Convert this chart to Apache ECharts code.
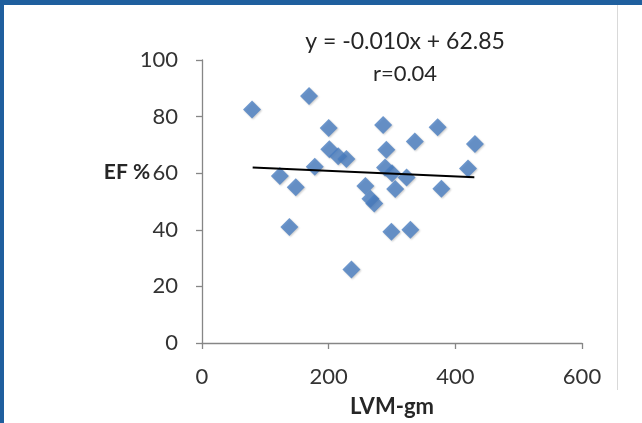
<!DOCTYPE html>
<html>
<head>
<meta charset="utf-8">
<script src="https://cdn.jsdelivr.net/npm/echarts@6/dist/echarts.min.js"></script>
<style>
html,body{margin:0;padding:0;background:#fff;}
#c{width:642px;height:423px;}
</style>
</head>
<body>
<div id="c"></div>
<script>
// LVM (gm) values of the scatter points
const lvm = [79, 169, 200, 201, 215, 228, 178, 123, 148, 138, 286, 291, 336, 372, 431, 289, 300, 323, 420, 258, 266, 272, 305, 378, 299, 329, 236];
// EF (%) values of the scatter points
const ef  = [82.5, 87.3, 76, 68.5, 66, 65, 62.3, 59, 55, 41, 77, 68.3, 71.2, 76.2, 70.3, 62, 60, 58.5, 61.7, 55.5, 51, 49.3, 54.4, 54.5, 39.3, 40, 26];
// Trend line end points
const trendX = [80, 430];
const trendY = [62.05, 58.55];
const xTicks = [0, 200, 400, 600];
const yTicks = [0, 20, 40, 60, 80, 100];
const equationText = 'y = -0.010x + 62.85';
const rText = 'r=0.04';

const FONT = 'Lato';
const chart = echarts.init(document.getElementById('c'), null, {renderer: 'canvas'});
chart.setOption({
  animation: false,
  backgroundColor: '#fff',
  grid: {left: 202, right: 60, top: 60, bottom: 70, containLabel: false},
  xAxis: {
    type: 'value', min: xTicks[0], max: xTicks[xTicks.length-1], interval: 200,
    name: 'LVM-gm', nameLocation: 'middle', nameGap: 53,
    nameTextStyle: {fontFamily: FONT, fontWeight: 'bold', fontSize: 22, color: '#262626'},
    axisLine: {lineStyle: {color: '#868686', width: 1.3}},
    axisTick: {show: true, length: 6, lineStyle: {color: '#868686', width: 1.3}},
    axisLabel: {fontFamily: FONT, fontSize: 22, color: '#333', margin: 23},
    splitLine: {show: false}
  },
  yAxis: {
    type: 'value', min: yTicks[0], max: yTicks[yTicks.length-1], interval: 20,
    axisLine: {show: true, lineStyle: {color: '#868686', width: 1.3}},
    axisTick: {show: true, length: 6, lineStyle: {color: '#868686', width: 1.3}},
    axisLabel: {fontFamily: FONT, fontSize: 22, color: '#333', margin: 24},
    splitLine: {show: false}
  },
  series: [
    {
      type: 'scatter',
      symbol: 'diamond',
      symbolSize: 18,
      itemStyle: {color: '#4a7ec2', shadowColor: 'rgba(0,0,0,0.25)', shadowBlur: 2, shadowOffsetX: 1, shadowOffsetY: 1},
      data: lvm.map((x, i) => [x, ef[i]]),
      z: 2
    },
    {
      type: 'line',
      symbol: 'none',
      lineStyle: {color: '#000', width: 2},
      data: trendX.map((x, i) => [x, trendY[i]]),
      z: 3
    }
  ],
  graphic: [
    {type: 'rect', shape: {x: 0, y: 0, width: 642, height: 5}, style: {fill: '#1f5f9e'}},
    {type: 'rect', shape: {x: 0, y: 0, width: 4, height: 423}, style: {fill: '#1f5f9e'}},
    {type: 'line', shape: {x1: 617.5, y1: 5, x2: 617.5, y2: 390}, style: {stroke: '#d9d9d9', lineWidth: 1}},
    {type: 'text', x: 127, y: 172, style: {text: 'EF %', fontFamily: FONT, fontWeight: 'bold', fontSize: 21, fill: '#262626', align: 'center', verticalAlign: 'middle'}},
    {type: 'text', x: 405, y: 42, style: {text: equationText, fontFamily: FONT, fontSize: 23, fill: '#262626', align: 'center', verticalAlign: 'middle'}},
    {type: 'text', x: 405, y: 74, style: {text: rText, fontFamily: FONT, fontSize: 22, fill: '#262626', align: 'center', verticalAlign: 'middle'}}
  ]
});
</script>
</body>
</html>
